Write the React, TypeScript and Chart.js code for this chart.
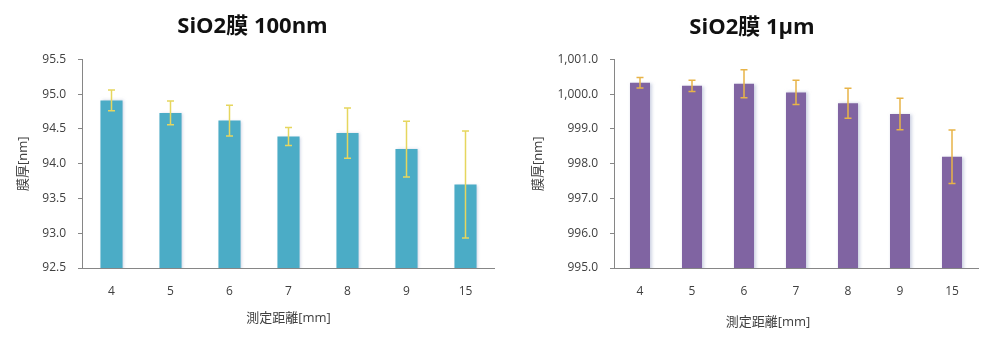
import React, { useEffect, useRef } from 'react';
import { Chart, registerables } from 'chart.js';

Chart.register(...registerables);

// Measurement distances (x-axis categories)
const categories = ['4', '5', '6', '7', '8', '9', '15'];

// SiO2 film, nominal 100 nm: mean thickness and standard deviation [nm]
const film100Means = [94.91, 94.73, 94.62, 94.39, 94.44, 94.21, 93.7];
const film100Errors = [0.15, 0.17, 0.22, 0.13, 0.36, 0.4, 0.77];

// SiO2 film, nominal 1 µm: mean thickness and standard deviation [nm]
const film1umMeans = [1000.33, 1000.24, 1000.3, 1000.05, 999.74, 999.43, 998.2];
const film1umErrors = [0.15, 0.16, 0.4, 0.35, 0.43, 0.45, 0.77];

// Y-axis ranges: min, max, step
const film100Range = [92.5, 95.5, 0.5];
const film1umRange = [995, 1001, 1];

const FONT = '"Open Sans", "Noto Sans CJK JP", sans-serif';
const TEXT = '#404040';
const AXIS = '#868686';

type Props = {
  title: string;
  means: number[];
  errors: number[];
  range: number[];
  barColor: string;
  errColor: string;
  barPct: number;
  padLeft: number;
  padRight: number;
  yWidth: number;
  yTitlePad: number;
  titleTop: number;
  titleBottom: number;
  xTitleY: number;
  xTitleShift: number;
};

function FilmChart(p: Props) {
  const ref = useRef<HTMLCanvasElement>(null);

  useEffect(() => {
    const canvas = ref.current;
    if (!canvas) return;

    // soft halo behind each bar, offset slightly to the right
    const shadowPlugin = {
      id: 'barShadow',
      beforeDatasetDraw(chart: any) {
        const c = chart.ctx;
        c.save();
        c.shadowColor = 'rgba(165,175,205,0.55)';
        c.shadowBlur = 3;
        c.shadowOffsetX = 1.5;
        c.shadowOffsetY = 0;
      },
      afterDatasetDraw(chart: any) {
        chart.ctx.restore();
      },
    };

    // ± standard deviation whiskers with caps
    const errorBarPlugin = {
      id: 'errorBars',
      afterDatasetsDraw(chart: any) {
        const meta = chart.getDatasetMeta(0);
        const y = chart.scales.y;
        const c = chart.ctx;
        c.save();
        c.strokeStyle = p.errColor;
        c.lineWidth = 1.5;
        meta.data.forEach((bar: any, i: number) => {
          const v = p.means[i];
          const e = p.errors[i];
          const top = y.getPixelForValue(v + e);
          const bot = y.getPixelForValue(v - e);
          const x = bar.x;
          c.beginPath();
          c.moveTo(x, top);
          c.lineTo(x, bot);
          c.moveTo(x - 3.5, top);
          c.lineTo(x + 3.5, top);
          c.moveTo(x - 3.5, bot);
          c.lineTo(x + 3.5, bot);
          c.stroke();
        });
        c.restore();
      },
    };

    // x-axis caption
    const xCaptionPlugin = {
      id: 'xCaption',
      afterDraw(chart: any) {
        const a = chart.chartArea;
        const c = chart.ctx;
        c.save();
        c.font = `13px ${FONT}`;
        c.fillStyle = TEXT;
        c.textAlign = 'center';
        c.textBaseline = 'middle';
        c.fillText('測定距離[mm]', (a.left + a.right) / 2 + p.xTitleShift, p.xTitleY);
        c.restore();
      },
    };

    const chart = new Chart(canvas, {
      type: 'bar',
      data: {
        labels: categories,
        datasets: [
          {
            data: p.means,
            backgroundColor: p.barColor,
            borderWidth: 0,
            barPercentage: p.barPct,
            categoryPercentage: 1,
          },
        ],
      },
      options: {
        animation: false,
        responsive: false,
        devicePixelRatio: 1,
        layout: { padding: { left: p.padLeft, right: p.padRight, top: 0, bottom: 0 } },
        plugins: {
          legend: { display: false },
          tooltip: { enabled: false },
          title: {
            display: true,
            text: p.title,
            color: '#111',
            font: { family: FONT, size: 22, weight: 'bold', lineHeight: 1.2 },
            padding: { top: p.titleTop, bottom: p.titleBottom },
          },
        },
        scales: {
          x: {
            grid: { display: false, drawTicks: false },
            border: { display: true, color: AXIS, width: 1 },
            ticks: { color: TEXT, font: { family: FONT, size: 12 }, padding: 16 },
            afterFit(s: any) {
              s.height = 78;
            },
          },
          y: {
            min: p.range[0],
            max: p.range[1],
            ticks: {
              stepSize: p.range[2],
              color: TEXT,
              font: { family: FONT, size: 12 },
              padding: 12,
              callback: (v: any) =>
                Number(v).toLocaleString('en-US', {
                  minimumFractionDigits: 1,
                  maximumFractionDigits: 1,
                }),
            },
            grid: {
              drawOnChartArea: false,
              drawTicks: true,
              tickLength: 4,
              color: AXIS,
            },
            border: { display: true, color: AXIS, width: 1 },
            title: {
              display: true,
              text: '膜厚[nm]',
              color: TEXT,
              font: { family: FONT, size: 13 },
              padding: { top: p.yTitlePad, bottom: 0 },
            },
            afterFit(s: any) {
              s.width = p.yWidth;
            },
          },
        },
      },
      plugins: [shadowPlugin, errorBarPlugin, xCaptionPlugin],
    } as any);

    return () => chart.destroy();
  }, []);

  return <canvas ref={ref} width={495} height={346} style={{ display: 'block' }} />;
}

export default function App() {
  return (
    <div
      style={{
        position: 'fixed',
        left: 0,
        top: 0,
        width: 990,
        height: 346,
        background: '#fff',
        display: 'flex',
      }}
    >
      <FilmChart
        title="SiO2膜 100nm"
        means={film100Means}
        errors={film100Errors}
        range={film100Range}
        barColor="#4bacc6"
        errColor="#e6d65e"
        barPct={0.375}
        padLeft={10}
        padRight={0}
        yWidth={72}
        yTitlePad={5}
        titleTop={14}
        titleBottom={19}
        xTitleY={318}
        xTitleShift={0}
      />
      <FilmChart
        title="SiO2膜 1µm"
        means={film1umMeans}
        errors={film1umErrors}
        range={film1umRange}
        barColor="#8064a2"
        errColor="#e8b448"
        barPct={0.385}
        padLeft={31}
        padRight={12}
        yWidth={88}
        yTitlePad={4}
        titleTop={15}
        titleBottom={18}
        xTitleY={322}
        xTitleShift={-28}
      />
    </div>
  );
}
